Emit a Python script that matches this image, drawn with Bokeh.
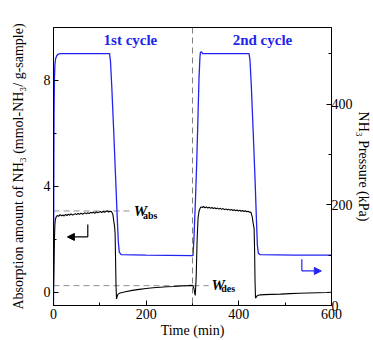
from bokeh.plotting import figure
from bokeh.models import Range1d, LinearAxis, Span, Arrow, NormalHead, FixedTicker
from bokeh.core.properties import value
from bokeh.embed import file_html
from bokeh.resources import INLINE

# ---- data ----
black_t1 = [0, 1, 2, 3, 4, 6, 8, 11, 14, 17, 20, 23, 26, 29, 32, 35, 38, 41, 44, 47, 50, 53, 56, 59,
            62, 65, 68, 71, 74, 77, 80, 83, 86, 89, 92, 95, 98, 101, 104, 107, 110, 113, 116, 119, 122, 125]
black_v1 = [0.0, 0.9, 2.0, 2.55, 2.75, 2.85, 2.9, 2.87, 2.93, 2.89, 2.92, 2.88, 2.94, 2.9, 2.95, 2.91,
            2.96, 2.92, 2.94, 2.97, 2.93, 2.98, 2.94, 2.99, 2.95, 2.97, 3.0, 2.96, 3.01, 2.97, 3.02, 2.99,
            3.03, 2.98, 3.04, 3.0, 3.02, 3.05, 3.01, 3.06, 3.02, 3.05, 3.07, 3.03, 3.06, 3.05]
black_t2 = [128, 130, 132, 133, 134, 135, 136, 137, 139, 142, 146, 155, 170, 185, 200, 215, 230, 245,
            260, 275, 290, 298, 301, 303, 305, 306]
black_v2 = [2.95, 2.7, 2.45, 2.2, 1.2, 0.2, -0.25, -0.18, -0.08, -0.04, -0.02, 0.02, 0.07, 0.11, 0.14,
            0.17, 0.19, 0.21, 0.22, 0.24, 0.25, 0.26, 0.25, 0.15, -0.05, -0.12]
black_t3 = [308, 310, 312, 314, 316, 318, 321, 324, 327, 330, 333, 336, 339, 342, 345, 348, 351, 354,
            357, 360, 363, 366, 369, 372, 375, 378, 381, 384, 387, 390, 393, 396, 399, 402, 405, 408,
            411, 414, 417, 420, 423, 426]
black_v3 = [0.6, 2.0, 2.8, 3.05, 3.15, 3.22, 3.2, 3.24, 3.19, 3.22, 3.18, 3.21, 3.17, 3.2, 3.16, 3.19,
            3.15, 3.18, 3.14, 3.17, 3.13, 3.16, 3.12, 3.15, 3.11, 3.14, 3.1, 3.13, 3.09, 3.12, 3.08, 3.11,
            3.07, 3.1, 3.06, 3.09, 3.05, 3.08, 3.04, 3.06, 3.02, 3.03]
black_t4 = [429, 431, 433, 434, 435, 436, 437, 439, 442, 446, 455, 470, 490, 510, 530, 550, 570, 590, 600]
black_v4 = [2.85, 2.6, 2.4, 1.6, 0.4, -0.22, -0.2, -0.14, -0.11, -0.1, -0.09, -0.08, -0.07, -0.05,
            -0.04, -0.03, -0.02, -0.01, 0.0]

blue_t = [0, 0.3, 0.7, 1.2, 2, 3, 4.5, 7, 10, 15, 60, 121, 123, 126, 130, 134, 138, 140, 142, 146,
          200, 250, 300, 301, 303, 306, 309, 312, 314, 316, 317, 319, 322, 360, 422, 424, 427, 431,
          435, 438, 440, 442, 446, 520, 600]
blue_p = [0, 120, 260, 380, 450, 478, 490, 496, 499, 500, 500, 500, 485, 430, 345, 255, 165, 125, 106,
          101, 100, 99.5, 99, 99, 130, 200, 280, 380, 450, 492, 502, 504, 500, 500, 500, 488, 435, 345,
          250, 170, 120, 104, 101, 100, 100]

w_abs = 3.07
w_des = 0.25
w_abs_end = 166
w_des_end = 335
cycle_split = 300

x_ticks = [0, 200, 400, 600]
x_minor = [100, 300, 500]
yl_ticks = [0, 4, 8]
yl_minor = [2, 6]
yr_ticks = [0, 200, 400]
yr_minor = [100, 300, 500]

BLUE = "#2323f0"
SERIF = "Liberation Serif"

black_t = black_t1 + black_t2 + black_t3 + black_t4
black_v = black_v1 + black_v2 + black_v3 + black_v4

p = figure(width=373, height=340, x_range=Range1d(0, 600), y_range=Range1d(-0.5, 10),
           output_backend="svg", toolbar_location=None,
           min_border_left=53, min_border_right=40, min_border_top=27, min_border_bottom=34)
p.extra_y_ranges = {"p": Range1d(0, 552)}
p.grid.visible = False
p.outline_line_color = "black"
p.outline_line_width = 1
p.background_fill_color = "white"
p.border_fill_color = "white"

def style_axis(ax, ticks, minor):
    ax.ticker = FixedTicker(ticks=ticks, minor_ticks=minor)
    ax.major_tick_in = 5
    ax.major_tick_out = 0
    ax.minor_tick_in = 3
    ax.minor_tick_out = 0
    ax.axis_line_color = "black"
    ax.major_tick_line_color = "black"
    ax.minor_tick_line_color = "black"
    ax.major_label_text_font = SERIF
    ax.major_label_text_font_size = "14px"
    ax.major_label_text_color = "black"
    ax.axis_label_text_font = SERIF
    ax.axis_label_text_font_size = "14px"
    ax.axis_label_text_font_style = "normal"
    ax.axis_label_text_color = "black"

xa = p.xaxis[0]
style_axis(xa, x_ticks, x_minor)
xa.axis_label = "Time (min)"
xa.major_label_standoff = 3
xa.axis_label_standoff = 1

ya = p.yaxis[0]
style_axis(ya, yl_ticks, yl_minor)
ya.axis_label = "Absorption amount of NH₃ (mmol-NH₃/ g-sample)"
ya.major_label_standoff = 3
ya.axis_label_standoff = 15

yr = LinearAxis(y_range_name="p")
style_axis(yr, yr_ticks, yr_minor)
yr.axis_label = "NH₃ Pressure (kPa)"
yr.major_label_standoff = 0
yr.axis_label_standoff = 0
p.add_layout(yr, "right")

# reference lines
p.add_layout(Span(location=cycle_split, dimension="height", line_color="#808080",
                  line_dash="6 4", line_width=1))
p.line([0, w_abs_end], [w_abs, w_abs], line_color="#909090", line_dash="6 4", line_width=1)
p.line([0, w_des_end], [w_des, w_des], line_color="#909090", line_dash="6 4", line_width=1)

# data lines
p.line(blue_t, blue_p, y_range_name="p", line_color=BLUE, line_width=1.3)
p.line(black_t, black_v, line_color="black", line_width=1.1)

# labels
p.text(x=[166, 451], y=[9.53, 9.53], text=["1st cycle", "2nd cycle"], text_font=value(SERIF),
       text_font_size="15px", text_font_style="bold", text_color=BLUE,
       text_align="center", text_baseline="middle")
p.text(x=[173, 341], y=[3.07, 0.29], text=["W", "W"], text_font=value(SERIF),
       text_font_size="15px", text_font_style="bold italic", text_color="black",
       text_align="left", text_baseline="middle")
p.text(x=[193, 362], y=[2.9, 0.14], text=["abs", "des"], text_font=value(SERIF),
       text_font_size="10px", text_font_style="bold", text_color="black",
       text_align="left", text_baseline="middle")

# arrows
p.line([74, 74], [2.56, 2.09], line_color="black", line_width=1.2)
p.add_layout(Arrow(x_start=74, y_start=2.09, x_end=30, y_end=2.09, line_color="black",
                   line_width=1.2, end=NormalHead(size=7, fill_color="black", line_color="black")))
p.line([536, 536], [92, 68.6], y_range_name="p", line_color=BLUE, line_width=1.2)
p.add_layout(Arrow(x_start=536, y_start=68.6, x_end=578, y_end=68.6, y_range_name="p",
                   line_color=BLUE, line_width=1.2,
                   end=NormalHead(size=7, fill_color=BLUE, line_color=BLUE)))

open("out.html", "w").write(file_html(p, INLINE))
